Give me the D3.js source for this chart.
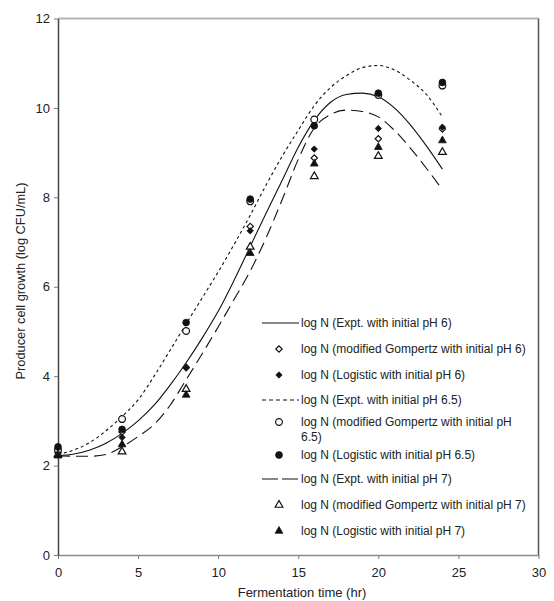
<!DOCTYPE html>
<html>
<head>
<meta charset="utf-8">
<script src="https://cdn.jsdelivr.net/npm/d3@7"></script>
<style>
  body { margin: 0; background: #fff; }
  text { font-family: "Liberation Sans", Arial, sans-serif; fill: #222; }
</style>
</head>
<body>
<div id="chart"></div>
<script>
// model curves at every hour
const curveTimes = [0,1,2,3,4,5,6,7,8,9,10,11,12,13,14,15,16,17,18,19,20,21,22,23,24];
const exptPH6  = [2.22,2.26,2.35,2.50,2.72,3.00,3.35,3.80,4.30,4.85,5.45,6.15,6.90,7.65,8.38,9.12,9.72,10.12,10.30,10.33,10.25,10.00,9.62,9.15,8.63];
const exptPH65 = [2.25,2.35,2.52,2.78,3.10,3.47,4.00,4.58,5.17,5.75,6.33,6.95,7.60,8.28,8.92,9.50,10.05,10.45,10.72,10.90,10.95,10.85,10.62,10.30,9.80];
const exptPH7  = [2.22,2.21,2.21,2.25,2.42,2.65,2.92,3.35,3.92,4.50,5.10,5.72,6.35,7.10,7.95,8.85,9.55,9.85,9.95,9.92,9.80,9.50,9.10,8.65,8.17];

// sampled model points
const sampleTimes = [0,4,8,12,16,20,24];
const gompPH6  = [2.30,2.75,4.20,7.35,8.88,9.31,9.53];
const logiPH6  = [2.28,2.63,4.18,7.25,9.08,9.54,9.57];
const gompPH65 = [2.35,3.04,5.01,7.91,9.74,10.29,10.50];
const logiPH65 = [2.42,2.81,5.20,7.96,9.60,10.33,10.57];
const gompPH7  = [2.25,2.31,3.71,6.89,8.47,8.92,9.01];
const logiPH7  = [2.22,2.47,3.58,6.75,8.75,9.12,9.27];

const xTicks = [0,5,10,15,20,25,30];
const yTicks = [0,2,4,6,8,10,12];

const legendLabels = [
  "log N (Expt. with initial pH 6)",
  "log N (modified Gompertz with initial pH 6)",
  "log N (Logistic with initial pH 6)",
  "log N (Expt. with initial pH 6.5)",
  "log N (modified Gompertz with initial pH|6.5)",
  "log N (Logistic with initial pH 6.5)",
  "log N (Expt. with initial pH 7)",
  "log N (modified Gompertz with initial pH 7)",
  "log N (Logistic with initial pH 7)"
];

(() => {
  const W = 554, H = 601;
  const plotL = 58, plotR = 538.5, plotT = 18.5, plotB = 555;

  const svg = d3.select("#chart").append("svg")
    .attr("width", W).attr("height", H);

  const x = d3.scaleLinear().domain([0, 30]).range([plotL, plotR]);
  const y = d3.scaleLinear().domain([0, 12]).range([plotB, plotT]);

  // frame
  svg.append("line").attr("x1", plotL).attr("x2", plotR).attr("y1", plotT).attr("y2", plotT)
    .attr("stroke", "#b5b5b5").attr("stroke-width", 2);
  svg.append("line").attr("x1", plotR).attr("x2", plotR).attr("y1", plotT).attr("y2", plotB)
    .attr("stroke", "#555").attr("stroke-width", 1.5);

  // axes
  const xAxis = svg.append("g").attr("transform", `translate(0,${plotB})`)
    .call(d3.axisBottom(x).tickValues(xTicks).tickSize(4).tickSizeOuter(0).tickPadding(6));
  const yAxis = svg.append("g").attr("transform", `translate(${plotL},0)`)
    .call(d3.axisLeft(y).tickValues(yTicks).tickSize(4).tickSizeOuter(0).tickPadding(4));
  xAxis.select(".domain").attr("stroke", "#8a8a8a").attr("stroke-width", 1.5);
  yAxis.select(".domain").attr("stroke", "#444").attr("stroke-width", 1.5);
  xAxis.selectAll(".tick line").attr("stroke", "#777");
  yAxis.selectAll(".tick line").attr("stroke", "#777");
  svg.selectAll(".tick text").attr("font-size", 13)
    .attr("font-family", '"Liberation Sans", Arial, sans-serif').attr("fill", "#222");
  xAxis.selectAll(".tick text").attr("dy", "0.9em");

  svg.append("text").attr("x", 302).attr("y", 597).attr("text-anchor", "middle")
    .attr("font-size", 13).text("Fermentation time (hr)");
  svg.append("text").attr("transform", "translate(25,281) rotate(-90)")
    .attr("text-anchor", "middle").attr("font-size", 12.8)
    .text("Producer cell growth (log CFU/mL)");

  // curves
  const lineGen = d3.line().x(d => x(d[0])).y(d => y(d[1])).curve(d3.curveMonotoneX);
  const curves = [
    { vals: exptPH65, dash: "3,3" },
    { vals: exptPH6, dash: null },
    { vals: exptPH7, dash: "12,6" }
  ];
  curves.forEach(c => {
    svg.append("path")
      .datum(curveTimes.map((t, i) => [t, c.vals[i]]))
      .attr("d", lineGen)
      .attr("fill", "none").attr("stroke", "#111").attr("stroke-width", 1.1)
      .attr("stroke-dasharray", c.dash);
  });

  // markers
  const markerSeries = [
    { vals: gompPH6, type: "diamond", filled: false },
    { vals: logiPH6, type: "diamond", filled: true },
    { vals: gompPH65, type: "circle", filled: false },
    { vals: logiPH65, type: "circle", filled: true },
    { vals: gompPH7, type: "triangle", filled: false },
    { vals: logiPH7, type: "triangle", filled: true }
  ];
  function symbolPath(type) {
    if (type === "circle") return d3.symbol().type(d3.symbolCircle).size(36)();
    if (type === "triangle") return d3.symbol().type(d3.symbolTriangle).size(26)();
    return d3.symbol().type(d3.symbolSquare).size(20)();
  }
  function drawMarker(g, type, filled) {
    g.append("path")
      .attr("d", symbolPath(type))
      .attr("transform", type === "diamond" ? "rotate(45)" : null)
      .attr("fill", filled ? "#111" : "#fff")
      .attr("stroke", "#111").attr("stroke-width", filled ? 0.8 : 1.2);
  }
  markerSeries.forEach(s => {
    sampleTimes.forEach((t, i) => {
      const g = svg.append("g").attr("transform", `translate(${x(t)},${y(s.vals[i])})`);
      drawMarker(g, s.type, s.filled);
    });
  });

  // legend
  const legendRows = [323, 349, 375, 400, 422, 455, 479, 505, 531];
  const legendKinds = [
    { line: null }, { type: "diamond", filled: false }, { type: "diamond", filled: true },
    { line: "4,3" }, { type: "circle", filled: false }, { type: "circle", filled: true },
    { line: "16,4" }, { type: "triangle", filled: false }, { type: "triangle", filled: true }
  ];
  legendLabels.forEach((lab, i) => {
    const ly = legendRows[i];
    const k = legendKinds[i];
    if (k.type) {
      drawMarker(svg.append("g").attr("transform", `translate(279,${ly})`), k.type, k.filled);
    } else {
      svg.append("line").attr("x1", 262).attr("x2", 299).attr("y1", ly).attr("y2", ly)
        .attr("stroke", "#111").attr("stroke-width", 1.1).attr("stroke-dasharray", k.line);
    }
    const txt = svg.append("text").attr("x", 301).attr("y", ly + 4).attr("font-size", 12);
    lab.split("|").forEach((p, j) => {
      txt.append("tspan").attr("x", 301).attr("dy", j === 0 ? 0 : 14.5).text(p);
    });
  });
})();
</script>
</body>
</html>
